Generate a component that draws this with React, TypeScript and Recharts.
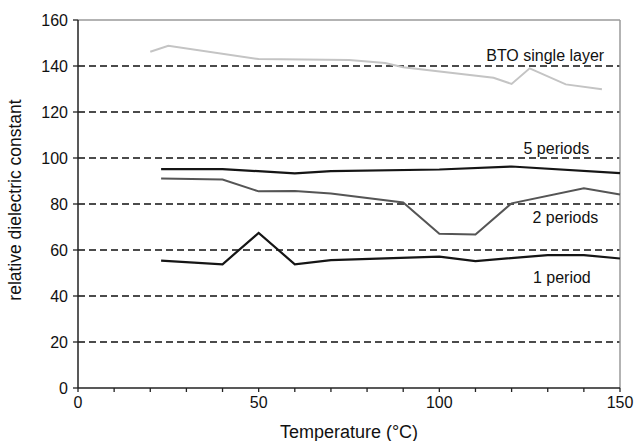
import React from 'react';
import { LineChart, Line, XAxis, YAxis, ReferenceLine, ReferenceDot } from 'recharts';

// Temperature (°C) and relative dielectric constant for each sample
const btoTemps = [20, 25, 50, 75, 85, 90, 115, 120, 125, 135, 145];
const btoValues = [146.2, 148.8, 143, 142.6, 141.3, 139.5, 134.9, 132.2, 139, 132, 129.9];

const fivePeriodTemps = [23, 40, 60, 70, 100, 120, 150];
const fivePeriodValues = [95.2, 95.2, 93.3, 94.3, 95, 96.3, 93.4];

const twoPeriodTemps = [23, 40, 50, 60, 70, 90, 100, 110, 120, 140, 150];
const twoPeriodValues = [91.1, 90.6, 85.5, 85.7, 84.6, 80.7, 67.1, 66.7, 80.3, 86.8, 84.1];

const onePeriodTemps = [23, 40, 50, 60, 70, 100, 110, 130, 140, 150];
const onePeriodValues = [55.4, 53.8, 67.4, 53.8, 55.6, 57.1, 55.2, 57.8, 57.8, 56.3];

const xTicks = [0, 10, 20, 30, 40, 50, 60, 70, 80, 90, 100, 110, 120, 130, 140, 150];
const xLabelTicks = [0, 50, 100, 150];
const yTicks = [0, 20, 40, 60, 80, 100, 120, 140, 160];
const gridValues = [20, 40, 60, 80, 100, 120, 140];

const annotationTexts = ['BTO single layer', '5 periods', '2 periods', '1 period'];
const annotationTemps = [129.3, 132.4, 134.9, 133.9];
const annotationValues = [144.8, 104.3, 74.3, 48.3];

const toPoints = (xs: number[], ys: number[]) => xs.map((t, i) => ({ t, v: ys[i] }));

const FONT = '"Liberation Sans", Arial, sans-serif';

export default function App() {
  return (
    <div style={{ position: 'absolute', left: 0, top: 0, background: '#fff' }}>
      <LineChart width={637} height={441} margin={{ top: 20, right: 17, bottom: 23, left: 18 }}>
        <XAxis
          dataKey="t"
          type="number"
          domain={[0, 150]}
          ticks={xTicks}
          allowDuplicatedCategory={false}
          tickFormatter={(v: number) => (xLabelTicks.includes(v) ? String(v) : '')}
          tickSize={4}
          tickMargin={5}
          height={30}
          stroke="#222"
          tickLine={{ stroke: '#222', strokeWidth: 1.3 }}
          axisLine={{ stroke: '#222', strokeWidth: 1.5 }}
          tick={{ fill: '#111', fontSize: 16, fontFamily: FONT }}
          label={{
            content: (p: any) => {
              const vb = p.viewBox || {};
              return (
                <text x={(vb.x ?? 78) + (vb.width ?? 542) / 2} y={432} textAnchor="middle" dominantBaseline="central" fontSize={18} fontFamily={FONT} fill="#111">
                  Temperature (°C)
                </text>
              );
            },
          }}
        />
        <YAxis
          type="number"
          domain={[0, 160]}
          ticks={yTicks}
          width={60}
          tickSize={5}
          tickMargin={5}
          stroke="#222"
          tickLine={{ stroke: '#222', strokeWidth: 1.3 }}
          axisLine={{ stroke: '#222', strokeWidth: 1.5 }}
          tick={{ fill: '#111', fontSize: 16, fontFamily: FONT }}
          label={{
            content: (p: any) => {
              const vb = p.viewBox || {};
              const cy = (vb.y ?? 20) + (vb.height ?? 368) / 2 - 4;
              return (
                <text x={15} y={cy} transform={`rotate(-90, 15, ${cy})`} textAnchor="middle" dominantBaseline="central" fontSize={17.5} fontFamily={FONT} fill="#111">
                  relative dielectric constant
                </text>
              );
            },
          }}
        />
        {gridValues.map((g) => (
          <ReferenceLine key={g} y={g} stroke="#111" strokeWidth={1.4} strokeDasharray="7 4" />
        ))}
        <ReferenceLine y={160} stroke="#9a9a9a" strokeWidth={1.5} />
        <ReferenceLine x={150} stroke="#9a9a9a" strokeWidth={1.5} />
        <Line data={toPoints(btoTemps, btoValues)} dataKey="v" stroke="#c4c4c4" strokeWidth={2} dot={false} isAnimationActive={false} />
        <Line data={toPoints(fivePeriodTemps, fivePeriodValues)} dataKey="v" stroke="#151515" strokeWidth={2.2} dot={false} isAnimationActive={false} />
        <Line data={toPoints(twoPeriodTemps, twoPeriodValues)} dataKey="v" stroke="#555555" strokeWidth={2} dot={false} isAnimationActive={false} />
        <Line data={toPoints(onePeriodTemps, onePeriodValues)} dataKey="v" stroke="#151515" strokeWidth={2.2} dot={false} isAnimationActive={false} />
        {annotationTexts.map((txt, i) => (
          <ReferenceDot
            key={txt}
            x={annotationTemps[i]}
            y={annotationValues[i]}
            r={0}
            fill="none"
            stroke="none"
            ifOverflow="visible"
            label={{ value: txt, position: 'center', fontSize: 16, fontFamily: FONT, fill: '#111' }}
          />
        ))}
      </LineChart>
    </div>
  );
}
